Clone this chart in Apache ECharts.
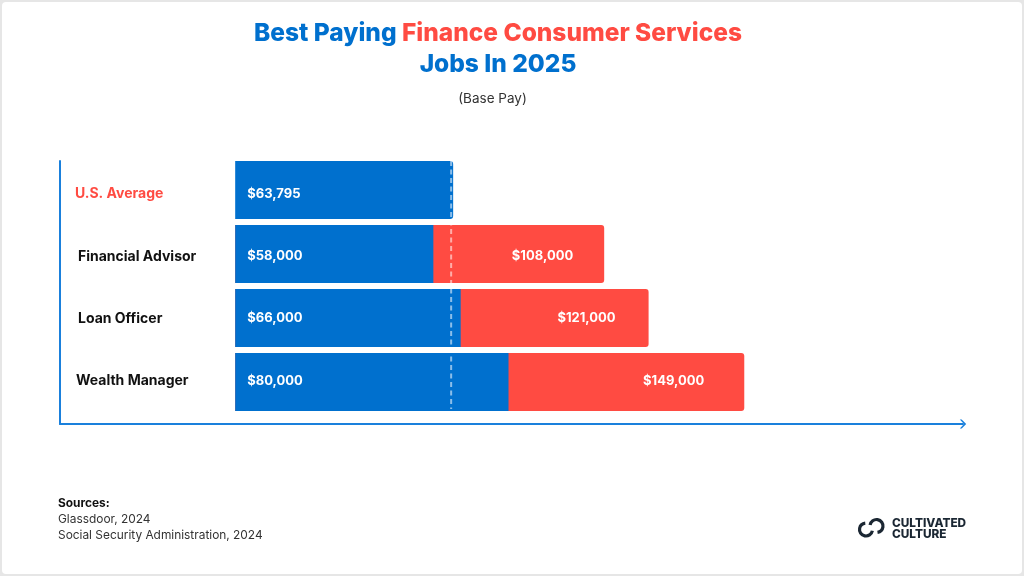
<!DOCTYPE html>
<html>
<head>
<meta charset="utf-8">
<style>
  html, body { margin: 0; padding: 0; background: #e6e6e6; }
  #chart { position: absolute; left: 2px; top: 2px; width: 1020px; height: 572px; background: #fff; border-radius: 4px; overflow: hidden; }
</style>
</head>
<body>
<div id="chart"></div>
<script src="https://cdn.jsdelivr.net/npm/echarts@6/dist/echarts.min.js"></script>
<script>
const categories = ['U.S. Average', 'Financial Advisor', 'Loan Officer', 'Wealth Manager'];
const lowPay = [63795, 58000, 66000, 80000];
const highPay = [null, 108000, 121000, 149000];
const averagePay = 63795;
const sources = ['Glassdoor, 2024', 'Social Security Administration, 2024'];

const BLUE = '#0070ce';
const RED = '#ff4b42';
const AXIS = '#1a80dc';
const FONT = 'Inter';
const money = v => '$' + v.toLocaleString('en-US');

// the page sits 2px inside the window, so everything below is offset from the frame
const chart = echarts.init(document.getElementById('chart'));

const xScale = { min: -51275, max: 213900 };
const redLabelInset = [0, 31, 33, 40];
const valueLabelShift = [4, 2, 0, -1];
// open arrow head, drawn pointing up because the axis rotates it
const chevron = 'path://M0 8 L6 2 L12 8 L12 10.5 L6 5 L0 10.5 Z';

chart.setOption({
  animation: false,
  title: [
    {
      text: '{b|Best Paying }{r|Finance Consumer Services}\n{b|Jobs In 2025}',
      left: 491,
      textAlign: 'center',
      top: 11,
      textStyle: {
        rich: {
          b: { fontFamily: FONT, fontSize: 24.5, fontWeight: 800, color: BLUE, lineHeight: 31 },
          r: { fontFamily: FONT, fontSize: 24.5, fontWeight: 800, color: RED, lineHeight: 31 }
        }
      }
    },
    {
      text: '(Base Pay)',
      left: 485.5,
      textAlign: 'center',
      top: 85,
      textStyle: { fontFamily: FONT, fontSize: 13.5, fontWeight: 400, color: '#333' }
    },
    {
      text: '{h|Sources:}\n{t|' + sources.join('}\n{t|') + '}',
      left: 51,
      top: 488,
      textStyle: {
        rich: {
          h: { fontFamily: FONT, fontSize: 11.9, fontWeight: 700, color: '#111', lineHeight: 16 },
          t: { fontFamily: FONT, fontSize: 11.9, fontWeight: 400, color: '#333', lineHeight: 16 }
        }
      }
    }
  ],
  grid: [
    { left: 58, right: 56, top: 156, height: 256 },
    { left: 58, right: 59, top: 159, bottom: 150 }
  ],
  xAxis: [
    {
      gridIndex: 0, type: 'value', min: xScale.min, max: xScale.max,
      axisLine: { show: false }, axisTick: { show: false }, axisLabel: { show: false }, splitLine: { show: false }
    },
    {
      gridIndex: 1, type: 'value', min: 0, max: 1,
      axisLine: { show: true, lineStyle: { color: AXIS, width: 2 }, symbol: ['none', chevron], symbolSize: [9, 7] },
      axisTick: { show: false }, axisLabel: { show: false }, splitLine: { show: false }
    }
  ],
  yAxis: [
    {
      gridIndex: 0, type: 'category', data: categories, inverse: true,
      axisLine: { show: false }, axisTick: { show: false },
      axisLabel: {
        inside: true,
        margin: 15,
        formatter: (v, i) => '{r' + i + '|' + v + '}',
        rich: {
          r0: { fontFamily: FONT, fontSize: 14, fontWeight: 700, color: RED, padding: [8, 0, 0, 0] },
          r1: { fontFamily: FONT, fontSize: 14, fontWeight: 700, color: '#111', padding: [6, 0, 0, 3] },
          r2: { fontFamily: FONT, fontSize: 14, fontWeight: 700, color: '#111', padding: [2, 0, 0, 3] },
          r3: { fontFamily: FONT, fontSize: 14, fontWeight: 700, color: '#111', padding: [0, 0, 2, 1] }
        }
      }
    },
    {
      gridIndex: 1, type: 'value', min: 0, max: 1,
      axisLine: { show: true, onZero: false, lineStyle: { color: AXIS, width: 2 } },
      axisTick: { show: false }, axisLabel: { show: false }, splitLine: { show: false }
    }
  ],
  series: [
    {
      name: 'High', type: 'bar', xAxisIndex: 0, yAxisIndex: 0,
      barWidth: 58, barGap: '-100%',
      data: highPay.map((v, i) => ({
        value: v,
        label: { distance: redLabelInset[i], offset: [0, valueLabelShift[i]] }
      })),
      itemStyle: { color: RED, borderRadius: [0, 3, 3, 0] },
      label: {
        show: true, position: 'insideRight',
        fontFamily: FONT, fontSize: 13, fontWeight: 700, color: '#fff',
        formatter: p => money(p.value)
      }
    },
    {
      name: 'Low', type: 'bar', xAxisIndex: 0, yAxisIndex: 0,
      barWidth: 58, barGap: '-100%',
      data: lowPay.map((v, i) => ({
        value: v,
        itemStyle: { borderRadius: i === 0 ? [0, 3, 3, 0] : 0 },
        label: { offset: [0, valueLabelShift[i]] }
      })),
      itemStyle: { color: BLUE },
      label: {
        show: true, position: 'insideLeft', distance: 12,
        fontFamily: FONT, fontSize: 13, fontWeight: 700, color: '#fff',
        formatter: p => money(p.value)
      }
    },
    {
      // dashed average marker, spanning first bar top to last bar bottom
      name: 'Average', type: 'custom', xAxisIndex: 0, yAxisIndex: 0, z: 5,
      data: [[averagePay]],
      encode: { x: 0 },
      renderItem: (params, api) => {
        const top = api.coord([api.value(0), 0]);
        const bottom = api.coord([api.value(0), categories.length - 1]);
        return {
          type: 'line',
          shape: { x1: top[0] - 2, y1: top[1] - 29, x2: top[0] - 2, y2: bottom[1] + 27 },
          style: { stroke: 'rgba(255,255,255,0.55)', lineWidth: 2, lineDash: [5, 3.5] }
        };
      }
    }
  ],
  graphic: [
    {
      type: 'group', left: 855, top: 515,
      children: [
        { type: 'arc', shape: { cx: 7.5, cy: 11.5, r: 6.5, startAngle: 0.2, endAngle: 4.6, clockwise: true },
          style: { fill: 'none', stroke: '#1b2733', lineWidth: 3.2 } },
        { type: 'arc', shape: { cx: 18, cy: 8, r: 6.5, startAngle: 3.3, endAngle: 7.7, clockwise: true },
          style: { fill: 'none', stroke: '#1b2733', lineWidth: 3.2 } }
      ]
    },
    {
      type: 'text', left: 890, top: 515,
      style: { text: 'CULTIVATED\nCULTURE', fontFamily: FONT, fontSize: 11.8, fontWeight: 800, fill: '#1b2733', lineHeight: 11 }
    }
  ]
});
</script>
</body>
</html>
